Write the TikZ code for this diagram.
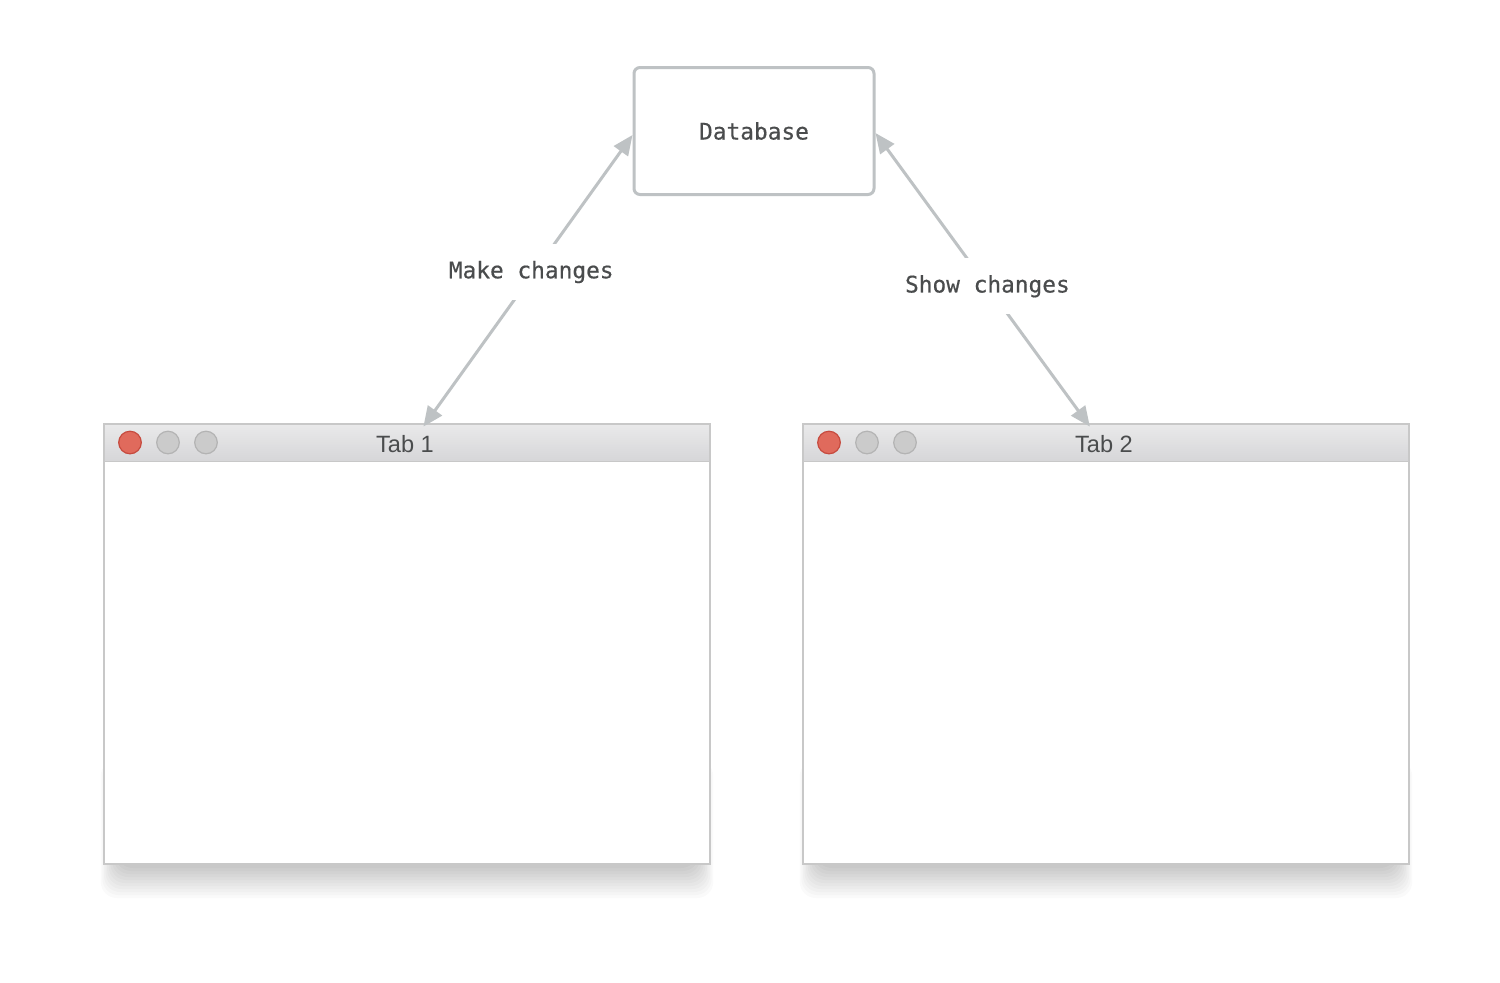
\documentclass[tikz,border=0pt]{standalone}
\usepackage{fontspec}
\setmainfont{Liberation Sans}
\newfontfamily\codefont[FakeBold=0.5]{DejaVu Sans Mono}
\usetikzlibrary{arrows.meta,calc}

\definecolor{linkgray}{HTML}{BEC2C4}
\definecolor{textgray}{HTML}{4A4C4D}
\definecolor{framegray}{HTML}{C8C8C8}
\definecolor{bartop}{HTML}{E9E9EA}
\definecolor{barbottom}{HTML}{D6D6D8}
\definecolor{closefill}{HTML}{E06A5C}
\definecolor{closeedge}{HTML}{C64A3E}
\definecolor{btnfill}{HTML}{CBCBCB}
\definecolor{btnedge}{HTML}{B3B3B3}

\tikzset{
  store/.style={draw=linkgray, line width=1.5pt, rounded corners=3pt, fill=white,
    minimum width=120pt, minimum height=63.5pt,
    font=\codefont\fontsize{11.4}{13}\selectfont, text=textgray},
  link/.style={draw=linkgray, line width=1.5pt,
    {Triangle[length=10pt,width=8.5pt]}-{Triangle[length=10pt,width=8.5pt]}},
  linklabel/.style={fill=white, inner xsep=2pt, minimum height=28pt,
    font=\codefont\fontsize{11.4}{13}\selectfont, text=textgray},
  winframe/.style={draw=framegray, line width=0.9pt, fill=white,
    minimum width=303pt, minimum height=220pt, inner sep=0pt},
  winbar/.style={top color=bartop, bottom color=barbottom, draw=framegray,
    line width=0.9pt, minimum width=303pt, minimum height=18.5pt, inner sep=0pt},
  wintitle/.style={font=\fontsize{11.8}{13}\selectfont, text=textgray},
  closebtn/.style={circle, fill=closefill, draw=closeedge, line width=0.6pt,
    minimum size=11.3pt, inner sep=0pt},
  otherbtn/.style={circle, fill=btnfill, draw=btnedge, line width=0.6pt,
    minimum size=11.3pt, inner sep=0pt},
  softshade/.style={fill=black, opacity=0.018, rounded corners=8pt},
}

% soft shadow under a window whose left/right edges are #1/#2
\newcommand{\windowshade}[2]{%
  \foreach \i in {1,...,12}{%
    \path[softshade] (#1+16-\i*1.6, 760) rectangle (#2-16+\i*1.6, 862+\i*3);
  }%
}

\begin{document}
\begin{tikzpicture}[x=0.5pt, y=-0.5pt]
  \useasboundingbox[fill=white] (0,0) rectangle (1500,982);

  % shadows under the windows
  \windowshade{104}{710}
  \windowshade{803}{1409}

  % the two browser windows
  \node[winframe] (win1) at (407,644) {};
  \node[winbar] (bar1) at (407,443) {};
  \node[wintitle] (title1) at (405,444) {Tab 1};
  \node[closebtn] (close1) at (130,442.5) {};
  \node[otherbtn] (min1) at (168,442.5) {};
  \node[otherbtn] (max1) at (206,442.5) {};

  \node[winframe] (win2) at (1106,644) {};
  \node[winbar] (bar2) at (1106,443) {};
  \node[wintitle] (title2) at (1104,444) {Tab 2};
  \node[closebtn] (close2) at (829,442.5) {};
  \node[otherbtn] (min2) at (867,442.5) {};
  \node[otherbtn] (max2) at (905,442.5) {};

  % shared store
  \node[store] (db) at (754,131) {Database};

  % sync links
  \coordinate (in1) at ($(bar1.north west)!0.527!(bar1.north east)+(0,3)$);
  \coordinate (in2) at ($(bar2.north west)!0.4735!(bar2.north east)+(0,3)$);
  \draw[link] ([yshift=-2pt]db.west) -- (in1)
    node[linklabel, pos=0.47, xshift=-1.5pt] (make) {Make changes};
  \draw[link] ([yshift=-1pt]db.east) -- (in2)
    node[linklabel, pos=0.522] (show) {Show changes};
\end{tikzpicture}
\end{document}
